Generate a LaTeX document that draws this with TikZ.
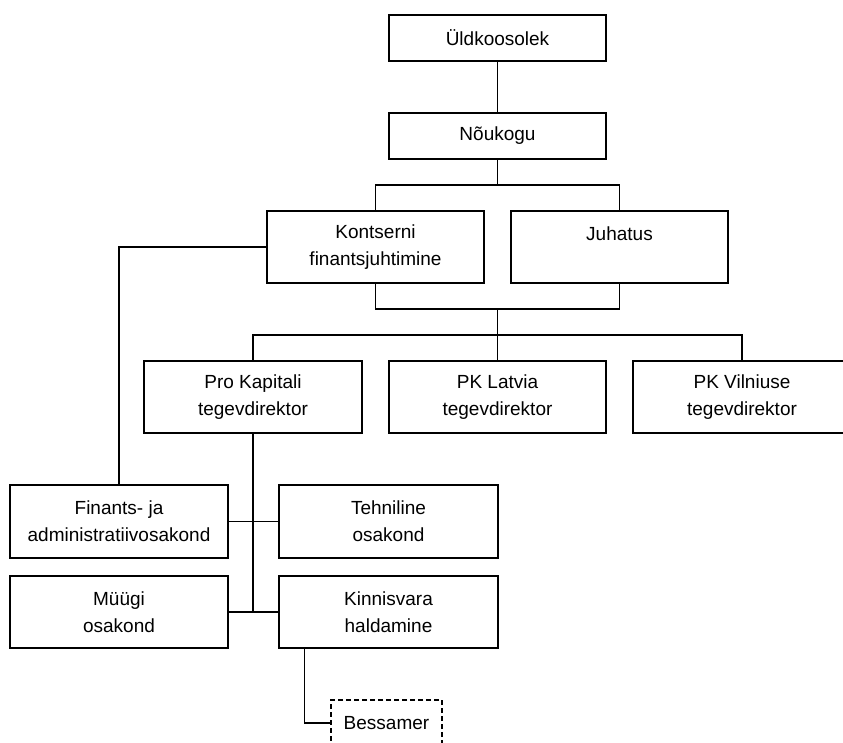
\documentclass[tikz,border=0pt]{standalone}
\usepackage{fontspec}
\setmainfont{Liberation Sans}
\begin{document}
\begin{tikzpicture}[x=1pt,y=-1pt,
  box/.style={draw=black,line width=1.3pt,fill=white,inner sep=0pt,align=center,
    font=\fontsize{19}{27}\selectfont,minimum width=217pt,minimum height=72pt},
  lowbox/.style={box,minimum height=46pt},
  dashbox/.style={box,dash pattern=on 5pt off 3pt,minimum width=111pt,minimum height=46pt},
  conn/.style={line width=1.3pt,draw=black}]
\path[use as bounding box] (0,0) rectangle (843,742);
\clip (0,0) rectangle (843,742);
\node[lowbox] (uk) at (497.5,38) {Üldkoosolek};
\node[lowbox] (nk) at (497.5,136) {Nõukogu};
\node[box] (ks) at (375.5,247) {Kontserni\\finantsjuhtimine};
\node[box] (ju) at (619.5,247) {Juhatus\\~};
\node[box,minimum width=218pt] (pk) at (253,397) {Pro Kapitali\\tegevdirektor};
\node[box] (lv) at (497.5,397) {PK Latvia\\tegevdirektor};
\node[box,minimum width=218pt] (vn) at (742,397) {PK Vilniuse\\tegevdirektor};
\node[box,minimum width=218pt,minimum height=73pt] (fa) at (119,521.5) {Finants- ja\\administratiivosakond};
\node[box,minimum width=219pt,minimum height=73pt] (te) at (388.5,521.5) {Tehniline\\osakond};
\node[box,minimum width=218pt] (mu) at (119,612) {Müügi\\osakond};
\node[box,minimum width=219pt] (ki) at (388.5,612) {Kinnisvara\\haldamine};
\node[dashbox] (be) at (386.5,723) {Bessamer};
\coordinate (j1) at (497.5,185);
\coordinate (j2) at (497.5,309);
\coordinate (j3) at (497.5,335);
\coordinate (j4) at (253,612);
\draw[conn] (uk.south) -- (nk.north);
\draw[conn] (nk.south) -- (j1);
\draw[conn] (ks.north) |- (j1) -| (ju.north);
\draw[conn] (ks.south) |- (j2) -| (ju.south);
\draw[conn] (j2) -- (lv.north);
\draw[conn] (pk.north) |- (j3) -| (vn.north);
\draw[conn] (ks.west) -| (fa.north);
\draw[conn] (pk.south) -- (j4);
\draw[conn] (fa.east) -- (te.west);
\draw[conn] (mu.east) -- (ki.west);
\draw[conn] ([xshift=26pt]ki.south west) |- (be.west);
\end{tikzpicture}
\end{document}
